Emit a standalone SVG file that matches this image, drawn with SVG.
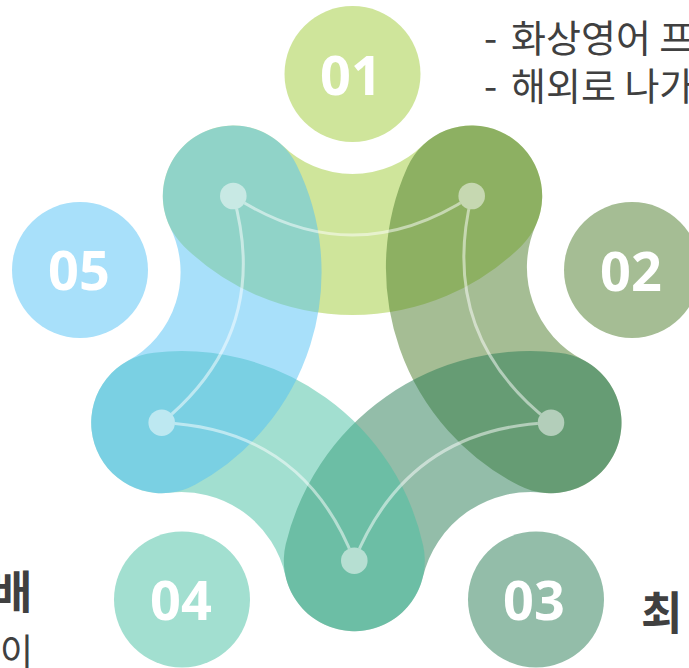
<svg xmlns="http://www.w3.org/2000/svg" width="689" height="668" viewBox="0 0 689 668">
<style>
.band{fill:none;stroke-width:141;stroke-linecap:round;stroke-opacity:0.5}
.num{font-family:"Open Sans","Noto Sans",sans-serif;font-weight:700;font-size:54px;fill:#ffffff;text-anchor:middle}
.dot{fill:#ffffff;fill-opacity:0.5}
.conn{fill:none;stroke:#ffffff;stroke-opacity:0.5;stroke-width:3}
.txt{font-family:"Noto Sans CJK KR","Noto Sans",sans-serif;fill:#404040}
.ttl{font-family:"Noto Sans CJK KR","Noto Sans",sans-serif;fill:#404040;font-weight:700;font-size:45px}
</style>
<defs>
<mask id="holes" maskUnits="userSpaceOnUse" x="0" y="0" width="689" height="668">
<rect width="689" height="668" fill="#fff"/>
<circle cx="233.3" cy="196" r="13.3" fill="#000"/>
<circle cx="471.7" cy="196" r="13.3" fill="#000"/>
<circle cx="551" cy="422.7" r="13.3" fill="#000"/>
<circle cx="354.3" cy="560.7" r="13.3" fill="#000"/>
<circle cx="161.7" cy="422.7" r="13.3" fill="#000"/>
</mask>
</defs>
<rect width="689" height="668" fill="#ffffff"/>
<g id="node-01">
<path class="band" stroke="#9fcb37" d="M233.3,196 A170.6,170.6 0 0 0 471.7,196"/>
<circle cx="352.5" cy="74" r="68" fill="#cfe59b"/>
<text class="num" x="351" y="95">01</text>
</g>
<g id="node-02">
<path class="band" stroke="#4b7b29" d="M471.7,196 A174.7,174.7 0 0 0 551,422.7"/>
<circle cx="632" cy="270" r="68" fill="#a5bd94"/>
<text class="num" x="631" y="291">02</text>
</g>
<g id="node-03">
<path class="band" stroke="#277b53" d="M551,422.7 A181.2,181.2 0 0 0 354.3,560.7"/>
<circle cx="536" cy="599.5" r="68" fill="#93bda9"/>
<text class="num" x="534" y="620">03</text>
</g>
<g id="node-04">
<path class="band" stroke="#45bfa1" d="M354.3,560.7 A177,177 0 0 0 161.7,422.7"/>
<circle cx="182" cy="599.5" r="68" fill="#a2dfd0"/>
<text class="num" x="181" y="620">04</text>
</g>
<g id="node-05">
<path class="band" stroke="#51c1f5" d="M161.7,422.7 A171.7,171.7 0 0 0 233.3,196"/>
<circle cx="80" cy="270" r="68" fill="#a8e0fa"/>
<text class="num" x="79" y="290">05</text>
</g>
<g id="connectors">
<g mask="url(#holes)">
<path class="conn" d="M233.3,196 Q352.5,274 471.7,196"/>
<path class="conn" d="M471.7,196 Q437.7,335.1 551,422.7"/>
<path class="conn" d="M551,422.7 Q407.9,427.8 354.3,560.7"/>
<path class="conn" d="M354.3,560.7 Q303.4,428.3 161.7,422.7"/>
<path class="conn" d="M161.7,422.7 Q271.9,332.8 233.3,196"/>
</g>
<circle class="dot" cx="233.3" cy="196" r="13.3"/>
<circle class="dot" cx="471.7" cy="196" r="13.3"/>
<circle class="dot" cx="551" cy="422.7" r="13.3"/>
<circle class="dot" cx="354.3" cy="560.7" r="13.3"/>
<circle class="dot" cx="161.7" cy="422.7" r="13.3"/>
</g>
<g id="labels">
<text class="txt" font-size="38" x="484" y="52">- <tspan x="511">화상영어 프</tspan></text>
<text class="txt" font-size="38" x="484" y="100">- <tspan x="511">해외로 나가</tspan></text>
<text class="ttl" x="-9" y="609">배</text>
<text class="txt" font-size="36" x="0" y="665">이</text>
<text class="ttl" x="641" y="630">최</text>
</g>
</svg>
